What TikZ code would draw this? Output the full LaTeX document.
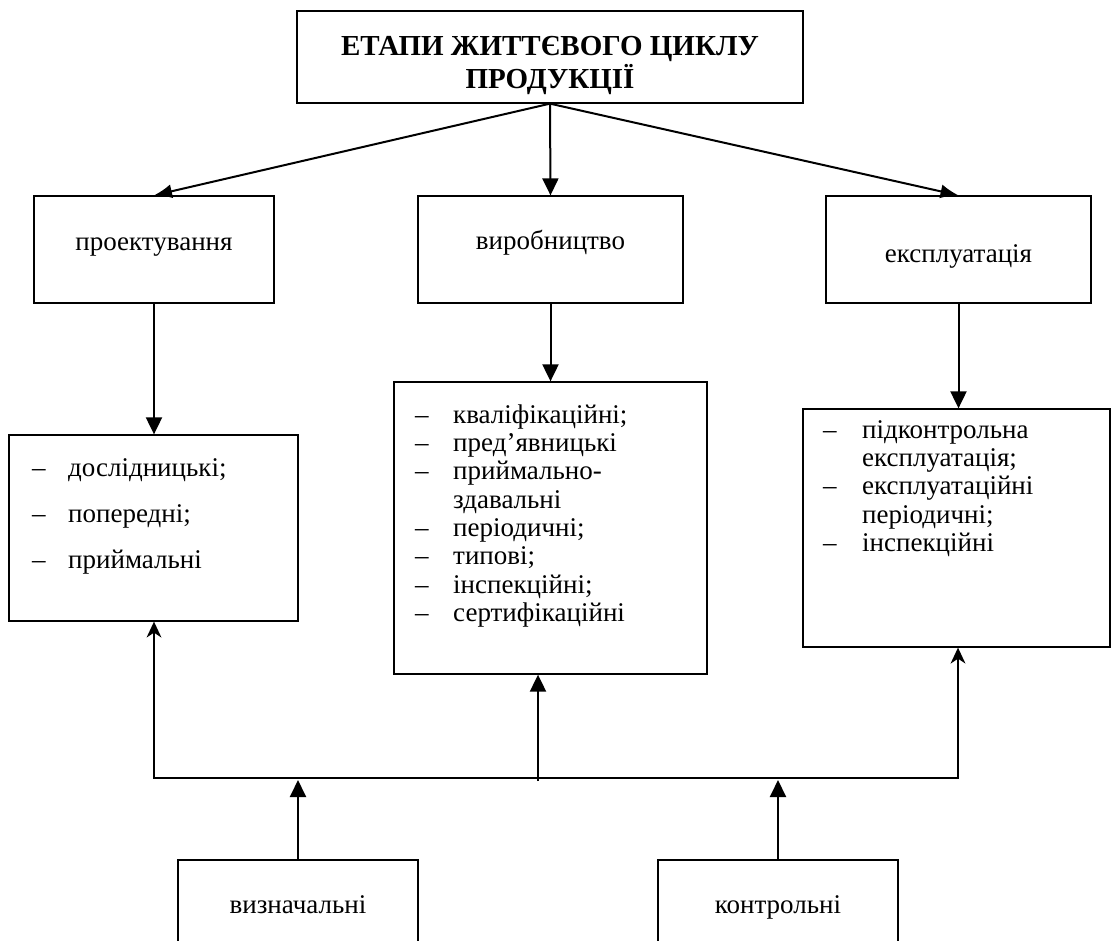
\documentclass[tikz,border=0pt]{standalone}
\usepackage{fontspec}
\setmainfont{Liberation Serif}[BoldFont={Liberation Serif Bold}]
\usetikzlibrary{arrows.meta}
\begin{document}
\begin{tikzpicture}[x=1pt,y=-1pt,
  box/.style n args={2}{draw, line width=1.3pt, inner sep=0pt, minimum width=#1pt, minimum height=#2pt},
  txt/.style={inner sep=0pt, anchor=base, font=\fontsize{27}{28}\selectfont},
  ltxt/.style={inner sep=0pt, anchor=base west, font=\fontsize{27}{28}\selectfont},
  ttl/.style={inner sep=0pt, anchor=base, font=\fontsize{29}{33}\selectfont\bfseries},
  conn/.style={line width=2pt},
  arrT/.style={conn, -{Triangle[length=17pt,width=16pt]}},
  arrS/.style={conn, -{Latex[length=18pt,width=14pt]}},
  tipS/.tip={Stealth[length=16pt,width=15pt,inset=5pt,line width=0pt]}
]
\useasboundingbox (0,0) rectangle (1113,940);
\begin{scope}
\clip (0,0) rectangle (1113,940);
% boxes
\node[box={506}{92}] (top) at (550,57) {};
\node[box={240}{107}] (proek) at (154,249.5) {};
\node[box={265}{107}] (vyr) at (550.5,249.5) {};
\node[box={265}{107}] (ekspl) at (958.5,249.5) {};
\node[box={289}{186}] (leftlist) at (153.5,528) {};
\node[box={313}{292}] (midlist) at (550.5,528) {};
\node[box={307}{238}] (rightlist) at (956.5,528) {};
\node[box={240}{120}] (vyzn) at (298,920) {};
\node[box={240}{120}] (kontr) at (778,920) {};
% texts
\node[ttl] (t1) at (550,55) {ЕТАПИ ЖИТТЄВОГО ЦИКЛУ};
\node[ttl] (t2) at (550,88) {ПРОДУКЦІЇ};
\node[txt] (tp) at (154,250) {проектування};
\node[txt] (tv) at (550.5,249) {виробництво};
\node[txt] (te) at (958.5,262) {експлуатація};
\node[txt] (tvz) at (298,913) {визначальні};
\node[txt] (tk) at (778,913) {контрольні};
% left list
\foreach \i/\y/\t in {1/476/дослідницькі;, 2/522/попередні;, 3/568/приймальні}{
  \node[ltxt] (ld\i) at (32,\y) {–};
  \node[ltxt] (lt\i) at (68,\y) {\t};
}
% middle list
\foreach \i/\y in {1/423, 2/451, 3/479, 5/536, 6/564, 7/593, 8/621}{
  \node[ltxt] (md\i) at (415,\y) {–};
}
\foreach \i/\y/\t in {1/423/кваліфікаційні;, 2/451/пред’явницькі, 3/479/приймально-, 4/508/здавальні, 5/536/періодичні;, 6/564/типові;, 7/593/інспекційні;, 8/621/сертифікаційні}{
  \node[ltxt] (mt\i) at (453,\y) {\t};
}
% right list
\foreach \i/\y in {1/438, 3/494, 5/551}{
  \node[ltxt] (rd\i) at (823,\y) {–};
}
\foreach \i/\y/\t in {1/438/підконтрольна, 2/466/експлуатація;, 3/494/експлуатаційні, 4/523/періодичні;, 5/551/інспекційні}{
  \node[ltxt] (rt\i) at (862,\y) {\t};
}
% connectors
\draw[arrS] (top.south) -- (proek.north);
\draw[arrT] (top.south) -- (vyr.north);
\draw[arrS] (top.south) -- (ekspl.north);
\draw[arrT] (proek.south) -- (proek.south |- leftlist.north);
\draw[arrT] (vyr.south) -- (midlist.north);
\draw[arrT] (ekspl.south) -- (ekspl.south |- rightlist.north);
\coordinate (bl) at (154,778);
\coordinate (br) at (958,778);
\draw[conn, tipS-tipS]
  (bl |- leftlist.south) -- (bl) -- (br) -- (br |- rightlist.south);
\coordinate (bm) at (538,781);
\draw[arrT] (bm) -- (bm |- midlist.south);
\coordinate (ba) at (298,780);
\coordinate (bb) at (778,780);
\draw[arrT] (vyzn.north) -- (ba);
\draw[arrT] (kontr.north) -- (bb);
\end{scope}
\end{tikzpicture}
\end{document}
